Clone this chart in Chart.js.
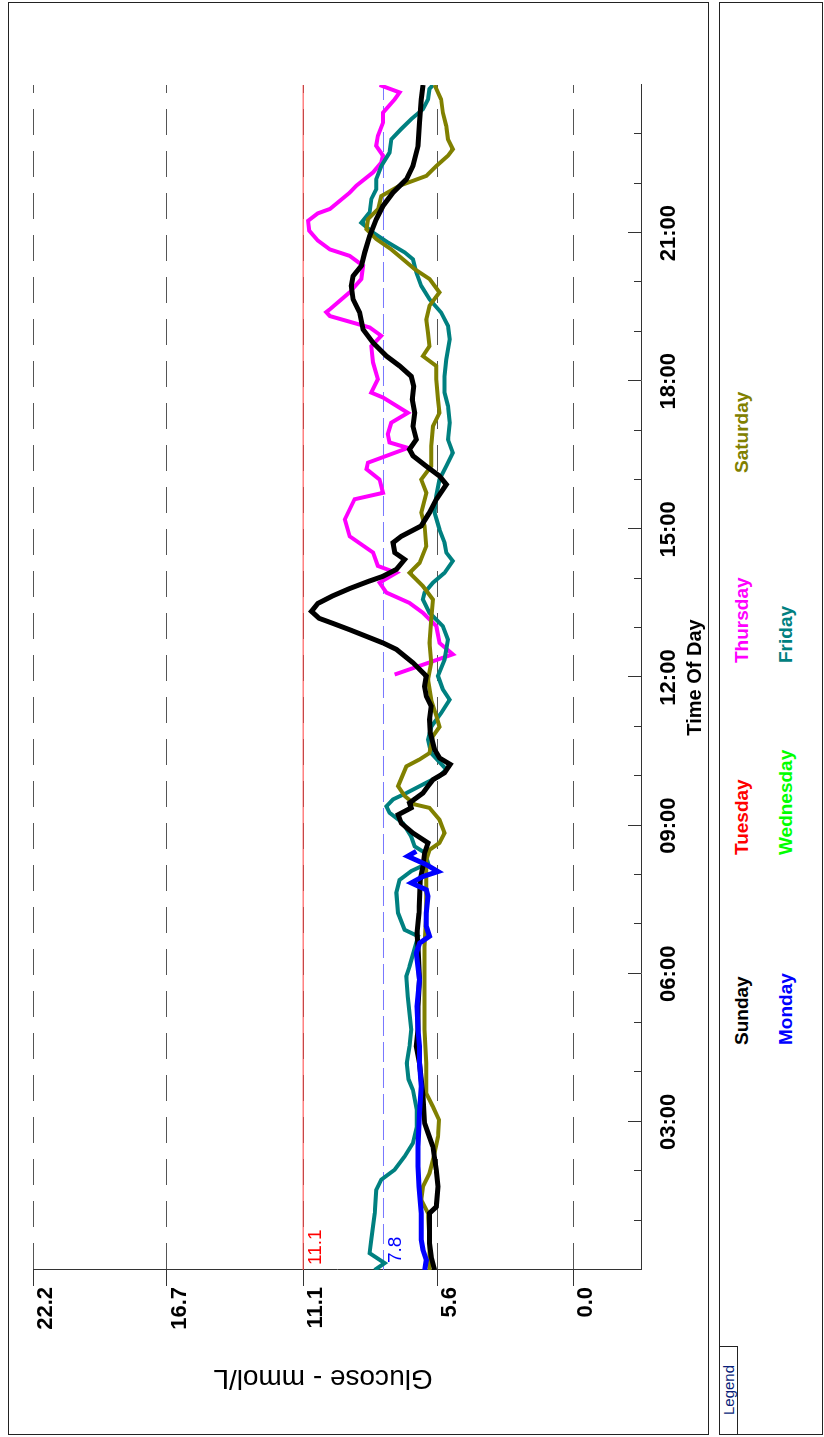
<!DOCTYPE html>
<html>
<head>
<meta charset="utf-8">
<script src="https://cdn.jsdelivr.net/npm/chart.js@4.4.0/dist/chart.umd.min.js"></script>
<style>
  html, body { margin: 0; padding: 0; background: #fff; overflow: hidden; }
  #page {
    position: absolute; left: 0; top: 0; width: 1437px; height: 824px;
    transform-origin: 0 0; transform: translateY(1437px) rotate(-90deg);
    font-family: "Liberation Sans", Arial, sans-serif;
  }
  #chart { position: absolute; left: 0; top: 0; }
  .panel { position: absolute; box-sizing: border-box; border: 1px solid #222; pointer-events: none; }
  #mainBox { left: 2px; top: 8px; width: 1433px; height: 701px; }
  #legendBox { left: 2px; top: 719px; width: 1433px; height: 104px; }
  #legendTab { left: 2px; top: 719px; width: 89px; height: 19px; }
  #legendTab span { position: absolute; left: 19px; top: 1px; font-size: 15px; line-height: 15px; color: #0a1f7a; }
  .item { position: absolute; font-weight: bold; font-size: 19px; line-height: 19px; white-space: nowrap; }
</style>
</head>
<body>
<div id="page">
  <canvas id="chart" width="1437" height="710"></canvas>
  <div class="panel" id="mainBox"></div>
  <div class="panel" id="legendBox"></div>
  <div class="panel" id="legendTab"><span>Legend</span></div>
  <div id="legend"></div>
</div>
<script>
// [hour of day, glucose mmol/L]
const sunday = [
  [0.0,5.7],[0.27,5.84],[0.54,5.91],[1.15,5.91],[1.28,5.63],[1.69,5.56],[2.03,5.63],[2.5,5.77],
  [2.77,5.97],[2.97,6.11],[3.52,6.18],[4.19,6.32],[4.53,6.45],[4.87,6.38],[5.34,6.38],[5.88,6.32],
  [6.55,6.38],[6.82,6.42],[7.23,6.34],[7.9,6.29],[8.18,6.18],[8.45,6.11],[8.65,5.97],[8.85,6.59],
  [9.05,7.07],[9.22,7.2],[9.36,6.66],[9.46,6.73],[9.66,6.18],[9.8,5.97],[9.93,5.77],[10.07,5.29],
  [10.24,5.06],[10.37,5.5],[10.54,5.7],[10.88,5.88],[11.15,5.91],[11.42,5.84],[11.62,6.04],
  [11.82,6.11],[12.03,6.04],[12.3,6.59],[12.57,7.27],[12.7,7.82],[12.97,9.2],[13.1,9.9],
  [13.2,10.45],[13.34,10.76],[13.5,10.5],[13.65,9.9],[13.8,9.2],[13.95,8.4],[14.05,7.82],
  [14.19,7.27],[14.39,6.93],[14.53,7.34],[14.73,7.41],[14.86,7.07],[15.07,6.25],[15.34,5.91],
  [15.61,5.63],[15.91,5.22],[16.08,5.5],[16.28,6.04],[16.49,6.59],[16.62,6.73],[16.82,6.45],
  [17.09,6.59],[17.36,6.52],[17.63,6.62],[17.9,6.56],[18.1,6.66],[18.31,7.14],[18.51,7.68],
  [18.78,8.23],[19.05,8.64],[19.39,8.78],[19.66,9.05],[19.93,9.12],[20.13,9.05],[20.34,8.71],
  [20.61,8.57],[20.94,8.37],[21.28,8.1],[21.55,7.82],[21.82,7.41],[22.09,6.86],[22.36,6.59],
  [22.77,6.38],[23.24,6.32],[23.71,6.25],[24.0,6.18]
];
const monday = [
  [0.0,6.11],[0.2,6.04],[0.41,6.18],[0.61,6.25],[1.15,6.25],[1.69,6.34],[2.1,6.38],[2.5,6.38],
  [3.18,6.32],[3.72,6.25],[4.19,6.32],[4.53,6.32],[4.87,6.38],[5.34,6.42],[5.88,6.32],
  [6.42,6.45],[6.62,6.32],[6.76,5.91],[6.96,6.04],[7.23,6.04],[7.57,5.97],[7.7,6.04],
  [7.84,6.66],[7.97,6.18],[8.07,5.56],[8.21,6.04],[8.38,6.8],[8.48,6.45]
];
const tuesday = [];
const wednesday = [];
const thursday = [
  [12.06,7.34],[12.47,4.95],[12.7,5.5],[13.04,5.63],[13.31,6.18],[13.51,6.73],[13.72,7.68],
  [13.92,7.96],[14.12,7.27],[14.26,8.03],[14.53,8.23],[14.86,9.19],[15.2,9.39],[15.61,8.99],
  [15.74,7.82],[16.01,7.96],[16.22,8.5],[16.35,8.44],[16.65,6.8],[16.76,7.55],[16.93,7.62],
  [17.16,7.48],[17.36,6.8],[17.67,7.82],[17.77,8.3],[18.04,8.03],[18.38,8.23],[18.71,8.3],
  [18.92,7.89],[19.09,8.37],[19.32,10.0],[19.4,10.15],[19.46,10.0],[19.8,9.19],[20.07,8.71],
  [20.34,8.64],[20.54,9.19],[20.67,10.0],[20.85,10.5],[21.05,10.85],[21.25,10.9],[21.4,10.5],
  [21.49,10.0],[21.82,9.19],[21.96,8.92],[22.23,8.23],[22.43,7.89],[22.57,7.82],[22.77,8.1],
  [22.97,8.03],[23.24,7.82],[23.44,7.82],[23.71,7.34],[23.85,7.14],[24.0,7.96]
];
const friday = [
  [0.0,8.16],[0.14,7.75],[0.34,8.37],[0.61,8.3],[1.15,8.16],[1.62,8.1],[1.83,7.89],[2.03,7.34],
  [2.3,6.93],[2.57,6.59],[2.91,6.43],[3.25,6.43],[3.65,6.59],[3.86,6.77],[4.19,6.84],[4.53,6.73],
  [4.87,6.66],[5.2,6.73],[5.54,6.8],[5.95,6.86],[6.15,6.73],[6.76,6.38],[6.89,6.93],[7.23,7.2],
  [7.64,7.27],[7.9,7.14],[8.08,6.66],[8.24,5.97],[8.45,6.1],[8.58,6.52],[8.78,6.66],[9.05,7.0],
  [9.26,7.55],[9.39,7.68],[9.53,7.41],[9.66,6.86],[9.87,6.04],[10.0,5.5],[10.14,5.22],
  [10.47,5.84],[10.74,5.97],[11.0,5.84],[11.28,5.43],[11.55,5.08],[11.76,5.36],[12.03,5.56],
  [12.36,5.29],[12.77,5.15],[13.04,5.36],[13.31,5.91],[13.58,6.18],[13.72,6.11],[13.92,5.77],
  [14.12,5.29],[14.36,4.95],[14.53,5.22],[14.73,5.29],[15.0,5.5],[15.34,5.7],[15.68,5.63],
  [16.01,5.5],[16.28,5.22],[16.55,4.95],[16.82,5.15],[17.16,5.08],[17.5,5.15],[17.77,5.29],
  [18.1,5.29],[18.44,5.22],[18.85,5.08],[19.12,5.15],[19.39,5.43],[19.66,5.91],[19.93,6.25],
  [20.2,6.45],[20.47,6.59],[20.61,6.93],[20.81,7.62],[21.01,8.23],[21.21,8.71],[21.42,8.37],
  [21.69,8.3],[21.89,8.1],[22.09,8.1],[22.36,7.89],[22.63,7.55],[22.9,7.48],[23.11,7.07],
  [23.31,6.66],[23.51,6.18],[23.71,5.97],[23.92,5.91],[24.0,5.77]
];
const saturday = [
  [0.0,5.91],[0.61,5.91],[1.15,5.97],[1.42,6.25],[1.69,6.18],[1.96,5.91],[2.37,5.7],[2.7,5.56],
  [3.04,5.52],[3.31,5.77],[3.58,6.04],[4.19,6.04],[4.87,6.11],[5.54,6.11],[6.55,6.11],[7.23,6.04],
  [7.9,6.04],[8.31,6.04],[8.51,5.91],[8.65,5.5],[8.85,5.29],[9.12,5.5],[9.36,5.91],[9.43,6.52],
  [9.6,6.93],[9.8,7.2],[10.2,6.86],[10.34,6.32],[10.47,5.91],[10.81,5.77],[11.0,5.5],[11.22,5.63],
  [11.55,5.84],[11.96,5.97],[12.3,5.84],[12.7,5.91],[13.18,5.84],[13.58,5.77],[13.85,6.18],
  [14.12,6.73],[14.32,6.32],[14.66,6.04],[15.07,6.11],[15.34,6.25],[15.74,6.04],[16.01,6.25],
  [16.28,5.84],[16.69,5.84],[17.09,5.77],[17.36,5.5],[17.63,5.56],[18.04,5.63],[18.31,5.63],
  [18.51,6.18],[18.71,5.91],[18.98,5.97],[19.25,6.04],[19.53,5.91],[19.8,5.5],[20.07,5.91],
  [20.27,6.52],[20.47,7.0],[20.67,7.48],[20.88,8.1],[21.08,8.5],[21.28,8.44],[21.49,8.02],
  [21.75,7.89],[21.96,7.14],[22.16,6.04],[22.36,5.63],[22.57,5.15],[22.7,4.95],[22.9,5.15],
  [23.17,5.22],[23.44,5.36],[23.71,5.43],[24.0,5.7]
];

const dayNames = ["Sunday", "Monday", "Tuesday", "Wednesday", "Thursday", "Friday", "Saturday"];
const dayColors = ["#000000", "#0000ff", "#ff0000", "#00ff00", "#ff00ff", "#008080", "#808000"];
const dayData = [sunday, monday, tuesday, wednesday, thursday, friday, saturday];
const dayOrder = [2, 1, 7, 7, 6, 5, 3]; // lower is drawn on top
const dayWidth = [5, 5, 4, 4, 4, 4, 4];

const glucoseTicks = [0.0, 5.6, 11.1, 16.7, 22.2];
const timeTicks = [3, 6, 9, 12, 15, 18, 21];
const hyperLimit = 11.1;
const targetLimit = 7.8;
const glucoseTitle = "Glucose - mmol/L";

const FONT = '"Liberation Sans", Arial, sans-serif';
Chart.defaults.font.family = FONT;
Chart.defaults.color = "#000";

const datasets = dayNames.map((name, i) => ({
  label: name,
  data: dayData[i],
  borderColor: dayColors[i],
  borderWidth: dayWidth[i],
  pointRadius: 0,
  tension: 0,
  fill: false,
  order: dayOrder[i],
}));
datasets.push({
  label: "hyper", data: [[0, hyperLimit], [24, hyperLimit]],
  borderColor: "#ff4040", borderWidth: 1, pointRadius: 0, order: 20,
});
datasets.push({
  label: "target", data: [[0, targetLimit], [24, targetLimit]],
  borderColor: "#7878ff", borderWidth: 1, borderDash: [20, 6], pointRadius: 0, order: 20,
});

const extras = {
  id: "extras",
  beforeDatasetsDraw(chart) {
    const { ctx, scales: { x, y } } = chart;
    ctx.save();
    ctx.font = "19px " + FONT;
    ctx.textBaseline = "top";
    ctx.fillStyle = "#ff0000";
    ctx.fillText(hyperLimit.toFixed(1), x.left + 5, y.getPixelForValue(hyperLimit) + 3);
    ctx.fillStyle = "#0000ff";
    ctx.fillText(targetLimit.toFixed(1), x.left + 7, y.getPixelForValue(targetLimit) + 3);
    ctx.restore();
  },
  afterDraw(chart) {
    const { ctx, scales: { x, y } } = chart;
    // small inward ticks on the time axis, longer every 3 hours
    ctx.save();
    ctx.strokeStyle = "#333";
    ctx.lineWidth = 1;
    for (let h = 1; h < 24; h++) {
      const px = Math.round(x.getPixelForValue(h)) + 0.5;
      const len = h % 3 === 0 ? 13 : 7;
      ctx.beginPath();
      ctx.moveTo(px, x.top);
      ctx.lineTo(px, x.top - len);
      ctx.stroke();
    }
    // value axis title, sitting a little above the middle of the axis
    ctx.translate(59, (y.top + y.bottom) / 2 - 14);
    ctx.rotate(-Math.PI / 2);
    ctx.font = "28px " + FONT;
    ctx.fillStyle = "#000";
    ctx.textAlign = "center";
    ctx.textBaseline = "middle";
    ctx.fillText(glucoseTitle, 0, 0);
    ctx.restore();
  },
};

new Chart(document.getElementById("chart"), {
  type: "line",
  data: { datasets },
  options: {
    responsive: false,
    animation: false,
    layout: { padding: { left: 0, top: 33, right: 85, bottom: 0 } },
    plugins: { legend: { display: false }, tooltip: { enabled: false } },
    scales: {
      x: {
        type: "linear",
        min: 0,
        max: 24,
        afterBuildTicks: (scale) => { scale.ticks = timeTicks.map((v) => ({ value: v })); },
        afterFit: (scale) => { scale.height = 69; },
        grid: { display: false, drawTicks: false },
        border: { display: true, color: "#333", width: 1 },
        ticks: {
          padding: 15,
          maxRotation: 0,
          font: { size: 22, weight: "bold" },
          callback: (v) => String(v).padStart(2, "0") + ":00",
        },
        title: {
          display: true,
          text: "Time Of Day",
          font: { size: 20, weight: "bold" },
          padding: { top: 0, bottom: 3 },
        },
      },
      y: {
        type: "linear",
        min: -2.78,
        max: 22.2,
        afterBuildTicks: (scale) => { scale.ticks = glucoseTicks.map((v) => ({ value: v })); },
        afterFit: (scale) => { scale.width = 167; },
        grid: { color: "#555", lineWidth: 1, tickLength: 16, tickColor: "#333" },
        border: { display: true, color: "#333", width: 1, dash: [26, 16] },
        ticks: {
          padding: 1,
          labelOffset: 13,
          font: { size: 22, weight: "bold" },
          callback: (v) => v.toFixed(1),
        },
        title: { display: false },
      },
    },
  },
  plugins: [extras],
});

// legend: four columns, two rows
const legendCols = [392, 582, 774, 964];
const legendRows = [732, 776];
const legendEl = document.getElementById("legend");
dayNames.forEach((name, i) => {
  const el = document.createElement("div");
  el.className = "item";
  el.textContent = name;
  el.style.color = dayColors[i];
  el.style.left = legendCols[Math.floor(i / 2)] + "px";
  el.style.top = legendRows[i % 2] + "px";
  legendEl.appendChild(el);
});
</script>
</body>
</html>
